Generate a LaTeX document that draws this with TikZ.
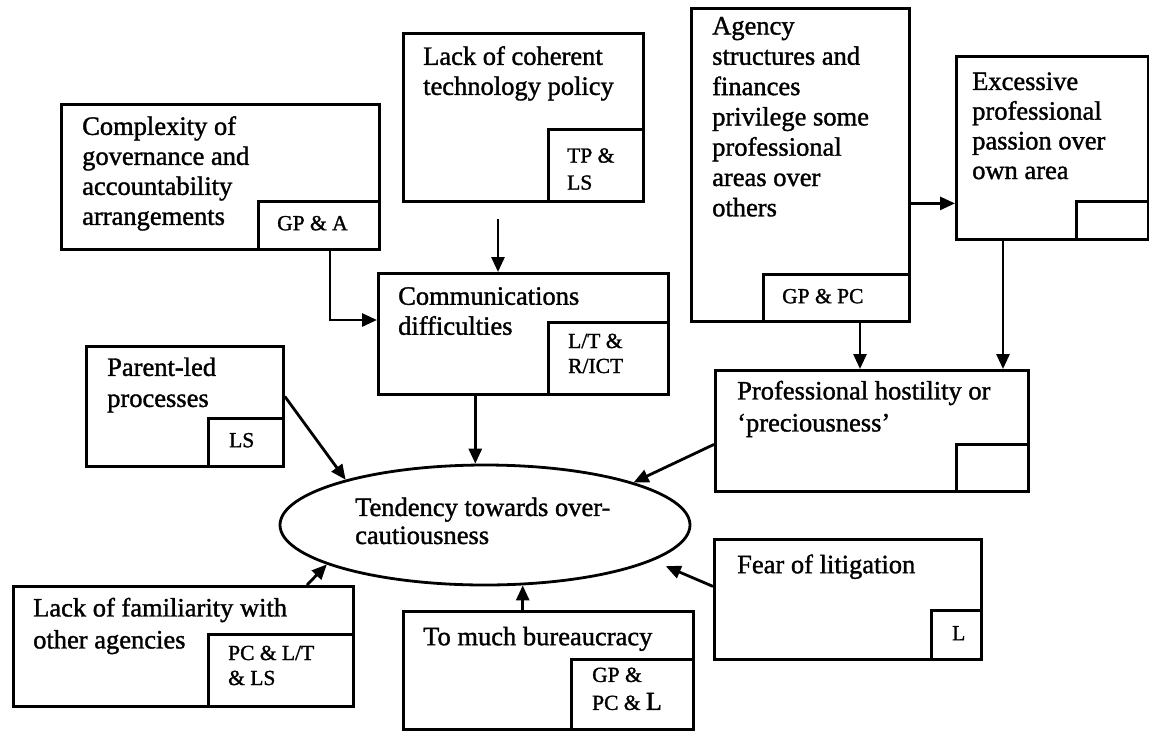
\documentclass[tikz,border=0pt]{standalone}
\usepackage{fontspec}
\setmainfont{Liberation Serif}[FakeBold=1.3]
\usetikzlibrary{arrows.meta,shapes.geometric}
\begin{document}
\begin{tikzpicture}[x=1pt,y=-1pt,
  box/.style={draw, line width=2.8pt, inner sep=0pt, anchor=north west},
  tagbox/.style={draw, line width=2.8pt, inner sep=0pt, anchor=south east},
  % a strut opens each label, so its top lies 0.7 baselineskip above the first baseline
  lbl/.style={inner sep=0pt, anchor=north west, align=left,
    font=\fontsize{26.5}{30}\selectfont, execute at begin node=\strut},
  taglbl/.style={inner sep=0pt, anchor=north west, align=left,
    font=\fontsize{21.5}{25}\selectfont, execute at begin node=\strut},
  arr/.style={line width=2.8pt, -{Triangle[length=15pt,width=13pt]}}]

% canvas
\fill[white] (0,0) rectangle (1149,732);
\useasboundingbox (0,0) rectangle (1149,732);

% ---- cause boxes ----
\node[box, minimum width=318pt, minimum height=145pt] (cx) at (60,103) {};
\node[tagbox, minimum width=121pt, minimum height=48pt] (cxt) at (cx.south east) {};
\node[lbl] (cxl) at (82,116) {Complexity of\\governance and\\accountability\\arrangements};
\node[taglbl] (cxtl) at (277,212.5) {GP \& A};

\node[box, minimum width=240pt, minimum height=168pt] (lk) at (402,32) {};
\node[tagbox, minimum width=95pt, minimum height=72pt] (lkt) at (lk.south east) {};
\node[lbl] (lkl) at (423,46) {Lack of coherent\\technology policy};
\node[taglbl, font=\fontsize{21.5}{27}\selectfont] (lktl) at (567,148.1) {TP \&\\LS};

\node[box, minimum width=218pt, minimum height=313pt] (ag) at (690,7) {};
\node[tagbox, minimum width=146pt, minimum height=47pt] (agt) at (ag.south east) {};
\node[lbl, font=\fontsize{26.5}{30.3}\selectfont] (agl) at (712,16.8) {Agency\\structures and\\finances\\privilege some\\professional\\areas over\\others};
\node[taglbl] (agtl) at (782,285.5) {GP \& PC};

\node[box, minimum width=192pt, minimum height=183pt] (ex) at (955,55) {};
\node[tagbox, minimum width=72pt, minimum height=38pt] (ext) at (ex.south east) {};
\node[lbl, font=\fontsize{26.5}{29.7}\selectfont] (exl) at (972,72.2) {Excessive\\professional\\passion over\\own area};

\node[box, minimum width=290pt, minimum height=121pt] (cm) at (377,272) {};
\node[tagbox, minimum width=120pt, minimum height=72pt] (cmt) at (cm.south east) {};
\node[lbl] (cml) at (398,287) {Communications\\difficulties};
\node[taglbl] (cmtl) at (568,333.5) {L/T \&\\R/ICT};

\node[box, minimum width=197pt, minimum height=120pt] (pa) at (85,345) {};
\node[tagbox, minimum width=75pt, minimum height=48pt] (pat) at (pa.south east) {};
\node[lbl, font=\fontsize{26.5}{31}\selectfont] (pal) at (107,357.3) {Parent-led\\processes};
\node[taglbl] (patl) at (229,429.5) {LS};

\node[box, minimum width=313pt, minimum height=121pt] (pr) at (714,369) {};
\node[tagbox, minimum width=72pt, minimum height=47pt] (prt) at (pr.south east) {};
\node[lbl, font=\fontsize{26.5}{32}\selectfont] (prl) at (737,380.6) {Professional hostility or\\‘preciousness’};

\node[box, minimum width=340pt, minimum height=120pt] (fa) at (12,585) {};
\node[tagbox, minimum width=145pt, minimum height=72pt] (fat) at (fa.south east) {};
\node[lbl, font=\fontsize{26.5}{32}\selectfont] (fal) at (33,597.6) {Lack of familiarity with\\other agencies};
\node[taglbl] (fatl) at (228,645.5) {PC \& L/T\\\& LS};

\node[box, minimum width=290pt, minimum height=118pt] (bu) at (402,610) {};
\node[tagbox, minimum width=122pt, minimum height=70pt] (but) at (bu.south east) {};
\node[lbl] (bul) at (423,624) {To much bureaucracy};
\node[taglbl, font=\fontsize{21.5}{28}\selectfont] (butl) at (592,667.4) {GP \&\\PC \& {\fontsize{26}{28}\selectfont L}};

\node[box, minimum width=267pt, minimum height=120pt] (fe) at (713,538) {};
\node[tagbox, minimum width=50pt, minimum height=49pt] (fet) at (fe.south east) {};
\node[lbl] (fel) at (737,552) {Fear of litigation};
\node[taglbl] (fetl) at (952,622.5) {L};

% ---- central outcome ----
\node[draw, ellipse, line width=2.8pt, inner sep=0pt,
      minimum width=410pt, minimum height=120pt] (el) at (485,525) {};
\node[lbl, font=\fontsize{26.5}{28}\selectfont] (ell) at (355,497.4) {Tendency towards over-\\cautiousness};

% ---- links between causes ----
\draw[arr] ([xshift=270pt]cx.south west) |- ([yshift=-48pt]cm.north west);
\draw[arr, shorten <=16pt] ([xshift=96pt]lk.south west) -- ([xshift=96pt]lk.south west |- cm.north);
\draw[arr] ([yshift=-38.5pt]ag.east) -- ([yshift=-38.5pt]ag.east -| ex.west);
\draw[arr] ([xshift=170pt]ag.south west) -- ([xshift=170pt]ag.south west |- pr.north);
\draw[arr] ([xshift=48pt]ex.south west) -- ([xshift=48pt]ex.south west |- pr.north);

% ---- links into the outcome ----
\draw[arr] (el.99.5 |- cm.south) -- (el.99.5);
\draw[arr] ([yshift=10pt]pa.east) -- (el.162.9);
\draw[arr] ([yshift=-13.5pt]pr.west) -- (el.16.9);
\draw[arr] ([xshift=295pt]fa.north west) -- (el.194.7);
\draw[arr] (el.302.8 |- bu.north) -- (el.302.8);
\draw[arr, shorten >=14pt] ([yshift=13pt]fe.west) -- (el.348.3);
\end{tikzpicture}
\end{document}
